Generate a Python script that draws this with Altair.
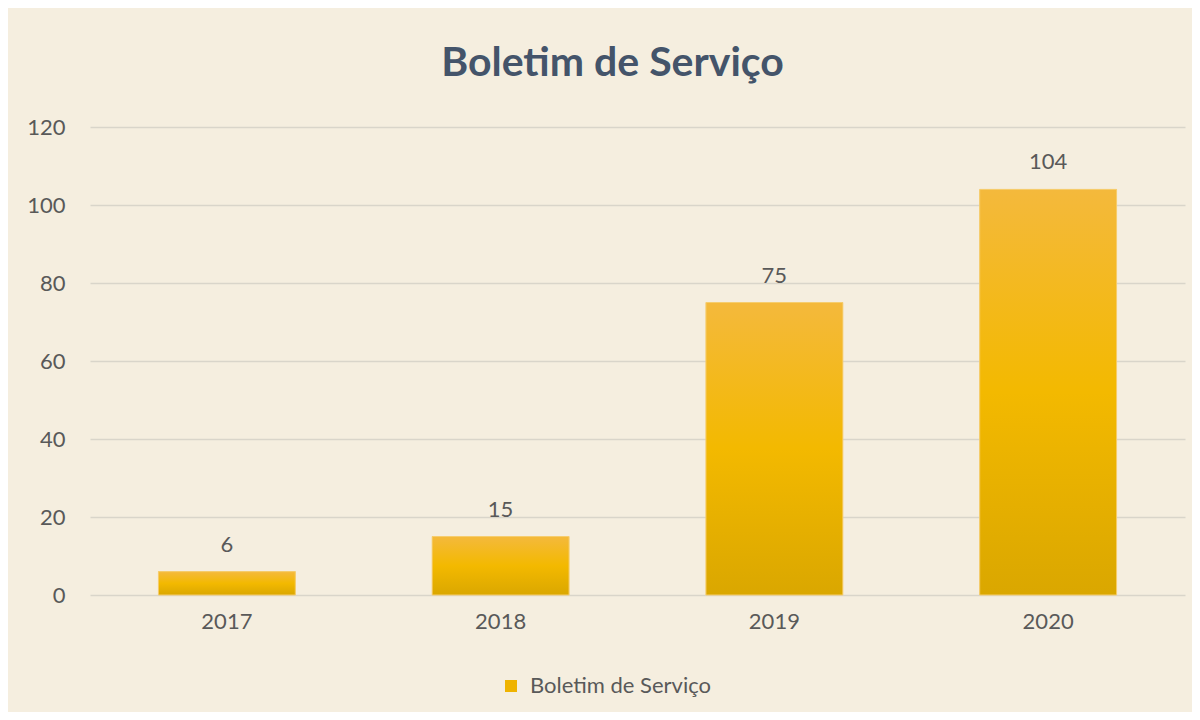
import altair as alt
import pandas as pd

# Data
years = ["2017", "2018", "2019", "2020"]
values = [6, 15, 75, 104]
series_name = "Boletim de Serviço"
y_ticks = [0, 20, 40, 60, 80, 100, 120]

df = pd.DataFrame({"ano": years, "valor": values, "serie": [series_name] * len(years)})

FONT = "Lato"
TXT = "#595959"
GRID = "#D9D5CA"
BG = "#F5EEDF"

grad = alt.Gradient(
    gradient="linear",
    stops=[
        alt.GradientStop(color="#F4B93C", offset=0),
        alt.GradientStop(color="#F3B900", offset=0.5),
        alt.GradientStop(color="#DAA700", offset=1),
    ],
    x1=0, x2=0, y1=0, y2=1,
)

x = alt.X(
    "ano:N",
    title=None,
    sort=years,
    scale=alt.Scale(paddingInner=0.5, paddingOuter=0.25),
    axis=alt.Axis(labelAngle=0, domain=False, ticks=False, grid=False,
                  labelFont=FONT, labelFontSize=22, labelColor=TXT, labelPadding=16),
)
y = alt.Y(
    "valor:Q",
    title=None,
    scale=alt.Scale(domain=[0, 120], nice=False),
    axis=alt.Axis(values=y_ticks, domain=False, ticks=False, grid=True,
                  gridColor=GRID, gridWidth=1.5, labelFont=FONT, labelFontSize=22,
                  labelColor=TXT, labelPadding=25),
)

base = alt.Chart(df).encode(x=x, y=y)

legend_bars = base.mark_bar().encode(
    color=alt.Color(
        "serie:N",
        scale=alt.Scale(range=["#EFB300"]),
        legend=alt.Legend(
            title=None, orient="none", legendX=410, legendY=548, padding=0,
            symbolType="square", symbolSize=144, symbolStrokeWidth=0,
            labelFont=FONT, labelFontSize=22, labelColor=TXT, labelOffset=8,
            labelLimit=0,
        ),
    )
)

grad_bars = base.mark_bar(fill=grad, stroke="#F6CD6E", strokeWidth=1)

labels = base.mark_text(
    dy=-20, baseline="alphabetic", font=FONT, fontSize=22, color=TXT
).encode(text="valor:Q")

chart = (
    alt.layer(legend_bars, grad_bars, labels)
    .properties(
        width=1095,
        height=468,
        title=alt.TitleParams(
            "Boletim de Serviço", anchor="middle", dx=-25, offset=-1,
            font=FONT, fontSize=41, fontWeight="bold", color="#44546A",
            baseline="alphabetic",
        ),
        autosize=alt.AutoSizeParams(type="none"),
        padding={"left": 82, "top": 119, "right": 7, "bottom": 117},
        background=BG,
    )
    .configure_view(stroke=None)
)

chart.save("out.html", embed_options={"renderer": "svg", "actions": False})
